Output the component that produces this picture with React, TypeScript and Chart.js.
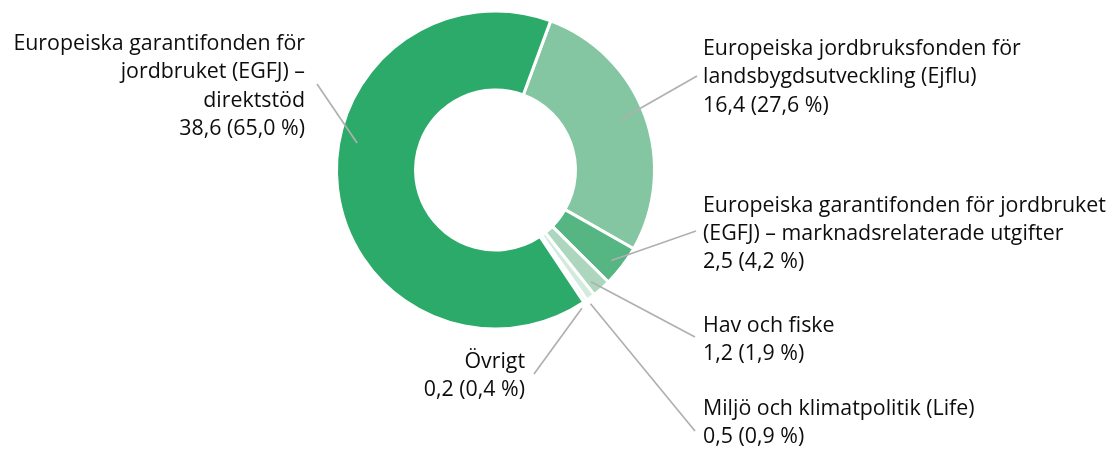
import React, { useEffect, useRef } from "react";
import { Chart, registerables } from "chart.js";

Chart.register(...registerables);

// Data (order clockwise starting from the top gap)
const categories = [
  "Europeiska jordbruksfonden för landsbygdsutveckling (Ejflu)",
  "Europeiska garantifonden för jordbruket (EGFJ) – marknadsrelaterade utgifter",
  "Hav och fiske",
  "Miljö och klimatpolitik (Life)",
  "Övrigt",
  "Europeiska garantifonden för jordbruket (EGFJ) – direktstöd",
];
const amounts = ["16,4", "2,5", "1,2", "0,5", "0,2", "38,6"];
const shares = [27.6, 4.2, 1.9, 0.9, 0.4, 65.0];
const shareLabels = ["27,6 %", "4,2 %", "1,9 %", "0,9 %", "0,4 %", "65,0 %"];
const colors = ["#85c6a2", "#55b583", "#acd6bd", "#d3ebde", "#e6f4ec", "#2caa6a"];

// Label text lines (per slice) — the last line is built from amounts/shares
const labelLines = [
  ["Europeiska jordbruksfonden för", "landsbygdsutveckling (Ejflu)"],
  ["Europeiska garantifonden för jordbruket", "(EGFJ) – marknadsrelaterade utgifter"],
  ["Hav och fiske"],
  ["Miljö och klimatpolitik (Life)"],
  ["Övrigt"],
  ["Europeiska garantifonden för", "jordbruket (EGFJ) –", "direktstöd"],
];

// Layout for labels: text anchor x, first baseline y, alignment, leader start (deg from top, radius), leader end
const labelLayout = [
  { x: 703, y: 55, align: "left", ang: 68, r: 135, ex: 697, ey: 76 },
  { x: 703, y: 211.5, align: "left", ang: 128, r: 147, ex: 696, ey: 231 },
  { x: 703, y: 331.5, align: "left", ang: 139.5, r: 147, ex: 695, ey: 337 },
  { x: 703, y: 415, align: "left", ang: 144.6, r: 164, ex: 695, ey: 431 },
  { x: 525, y: 368, align: "right", ang: 148, r: 163, ex: 534, ey: 374 },
  { x: 305, y: 50, align: "right", ang: 281, r: 141, ex: 317, ey: 84 },
];

const FONT = "'Open Sans', 'Noto Sans', sans-serif";
const LINE_H = 28.3;

const labelPlugin = {
  id: "sliceLabels",
  afterDraw(chart: any) {
    const ctx = chart.ctx;
    const arc = chart.getDatasetMeta(0).data[0];
    if (!arc) return;
    const cx = arc.x;
    const cy = arc.y;
    ctx.save();
    // Fit font size so the widest reference line has its measured width
    ctx.font = `100px ${FONT}`;
    const w100 = ctx.measureText("Europeiska garantifonden för jordbruket").width;
    const size = Math.min(22, (403 / w100) * 100);
    // leader lines
    ctx.strokeStyle = "#b0b0b0";
    ctx.lineWidth = 1.7;
    labelLayout.forEach((L) => {
      const a = (L.ang * Math.PI) / 180;
      const sx = cx + L.r * Math.sin(a);
      const sy = cy - L.r * Math.cos(a);
      ctx.beginPath();
      ctx.moveTo(sx, sy);
      ctx.lineTo(L.ex, L.ey);
      ctx.stroke();
    });
    ctx.fillStyle = "#0d0d0d";
    ctx.font = `${size}px ${FONT}`;
    ctx.textBaseline = "alphabetic";
    labelLayout.forEach((L, i) => {
      const lines = [...labelLines[i], `${amounts[i]} (${shareLabels[i]})`];
      ctx.textAlign = L.align;
      lines.forEach((t, j) => {
        ctx.fillText(t, L.x, L.y + j * LINE_H);
      });
    });
    ctx.restore();
  },
};

export default function App() {
  const ref = useRef<HTMLCanvasElement>(null);
  useEffect(() => {
    if (!ref.current) return;
    const chart = new Chart(ref.current, {
      type: "doughnut",
      data: {
        labels: categories,
        datasets: [
          {
            data: shares,
            backgroundColor: colors,
            borderColor: "#ffffff",
            borderWidth: 3,
            hoverOffset: 0,
          },
        ],
      },
      options: {
        animation: false,
        responsive: false,
        maintainAspectRatio: false,
        rotation: 20.3,
        radius: 159,
        cutout: "50.3%",
        layout: { padding: { left: 0, top: 0, right: 122, bottom: 116 } },
        plugins: {
          legend: { display: false },
          tooltip: { enabled: false },
        },
        events: [],
      },
      plugins: [labelPlugin],
    });
    return () => chart.destroy();
  }, []);
  return (
    <div style={{ position: "absolute", left: 0, top: 0, width: 1113, height: 456, background: "#fff" }}>
      <canvas ref={ref} width={1113} height={456} style={{ width: 1113, height: 456 }} />
    </div>
  );
}
